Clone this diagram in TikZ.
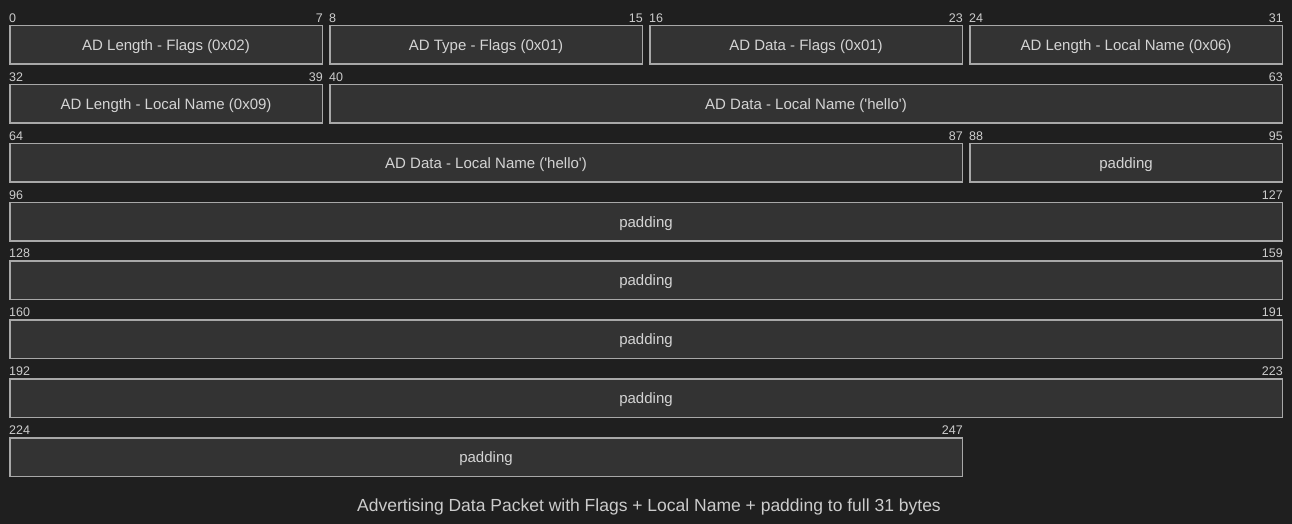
\documentclass[tikz,border=0pt]{standalone}
\usepackage{fontspec}
\setmainfont{Liberation Sans}
\definecolor{pagebg}{HTML}{1F1F1F}
\definecolor{fieldfill}{HTML}{333333}
\definecolor{fieldline}{HTML}{A8A8A8}
\definecolor{fieldtext}{HTML}{D4D4D4}
\definecolor{numtext}{HTML}{CCCCCC}

% One packet field: name, row, first column, last column, text, first bit, last bit
\newcommand\pktfield[7]{%
  \pgfmathsetmacro\fx{9+40*#3}%
  \pgfmathsetmacro\fy{25+58.857*#2}%
  \pgfmathsetmacro\fw{40*(#4-#3+1)-6-1.5}%
  \node[field, minimum width=\fw pt] (#1) at (\fx,\fy) {#5};
  \node[bitnum, anchor=base west] (#1-lo) at ([yshift=2.5pt]#1.north west) {#6};
  \node[bitnum, anchor=base east] (#1-hi) at ([yshift=2.5pt]#1.north east) {#7};
}

\begin{document}
\begin{tikzpicture}[x=1pt, y=-1pt,
  field/.style={draw=fieldline, fill=fieldfill, line width=1.5pt, inner sep=0pt,
    minimum height=38.5pt, anchor=north west, text=fieldtext,
    text height=12pt, text depth=1pt,
    font=\fontsize{15}{18}\selectfont},
  bitnum/.style={inner sep=0pt, text=numtext, font=\fontsize{12.5}{14}\selectfont},
  caption/.style={inner sep=0pt, text=numtext, font=\fontsize{17.5}{21}\selectfont}]
\fill[pagebg] (0,0) rectangle (1292,524);
\useasboundingbox (0,0) rectangle (1292,524);

% row 0
\pktfield{f0}{0}{0}{7}{AD Length - Flags (0x02)}{0}{7}
\pktfield{f1}{0}{8}{15}{AD Type - Flags (0x01)}{8}{15}
\pktfield{f2}{0}{16}{23}{AD Data - Flags (0x01)}{16}{23}
\pktfield{f3}{0}{24}{31}{AD Length - Local Name (0x06)}{24}{31}
% row 1
\pktfield{f4}{1}{0}{7}{AD Length - Local Name (0x09)}{32}{39}
\pktfield{f5}{1}{8}{31}{AD Data - Local Name (\textquotesingle hello\textquotesingle)}{40}{63}
% row 2
\pktfield{f6}{2}{0}{23}{AD Data - Local Name (\textquotesingle hello\textquotesingle)}{64}{87}
\pktfield{f7}{2}{24}{31}{padding}{88}{95}
% rows 3-7: padding
\pktfield{f8}{3}{0}{31}{padding}{96}{127}
\pktfield{f9}{4}{0}{31}{padding}{128}{159}
\pktfield{f10}{5}{0}{31}{padding}{160}{191}
\pktfield{f11}{6}{0}{31}{padding}{192}{223}
\pktfield{f12}{7}{0}{23}{padding}{224}{247}

\node[caption] (title) at (649,506.5) {Advertising Data Packet with Flags + Local Name + padding to full 31 bytes};
\end{tikzpicture}
\end{document}
